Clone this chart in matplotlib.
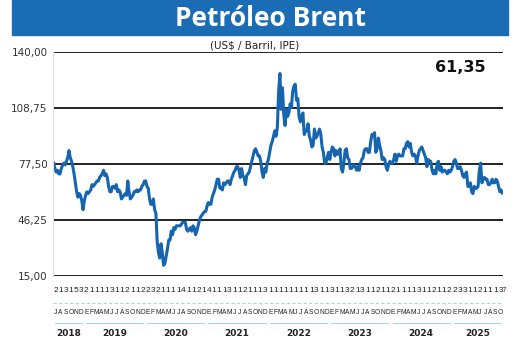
import numpy as np
import matplotlib.pyplot as plt
from matplotlib.transforms import blended_transform_factory

# weekly-ish Brent closes, Jul 2018 .. Oct 2025 (4 per month)
brent = [
    # 2018 Jul-Dec
    78, 75, 73, 74,  72, 72, 75, 77,  78, 77, 79, 81,
    85, 81, 79, 76,  72, 67, 62, 59,  61, 60, 57, 52,
    # 2019
    57, 60, 62, 61,  62, 63, 66, 65,  66, 67, 68, 68,
    70, 71, 72, 74,  71, 72, 70, 65,  62, 62, 65, 65,
    64, 66, 62, 63,  62, 58, 59, 60,  61, 60, 68, 62,
    58, 59, 60, 62,  62, 63, 62, 63,  63, 65, 66, 68,
    # 2020
    68, 65, 64, 58,  55, 55, 58, 52,  50, 34, 28, 25,
    33, 28, 21, 22,  26, 30, 35, 35,  40, 38, 42, 41,
    43, 43, 43, 43,  44, 45, 45, 45,  41, 40, 41, 42,
    40, 43, 42, 38,  40, 43, 46, 48,  49, 50, 51, 51,
    # 2021
    54, 56, 55, 55,  59, 61, 63, 66,  69, 69, 64, 64,
    63, 67, 66, 67,  68, 68, 66, 69,  71, 73, 74, 76,
    76, 74, 70, 75,  71, 70, 66, 71,  72, 73, 76, 79,
    82, 85, 86, 84,  82, 82, 79, 73,  70, 75, 73, 78,
    # 2022
    80, 84, 88, 90,  93, 96, 93, 98,  118, 128, 108, 120,
    105, 99, 108, 104,  106, 111, 109, 118,  121, 122, 113, 114,
    104, 101, 104, 106,  94, 96, 96, 100,  93, 91, 87, 88,
    97, 92, 93, 95,  97, 94, 87, 84,  78, 78, 81, 84,
    # 2023
    80, 84, 87, 86,  82, 85, 83, 83,  86, 75, 73, 78,
    85, 86, 81, 80,  75, 75, 76, 77,  76, 74, 76, 74,
    78, 80, 81, 85,  86, 86, 84, 84,  90, 94, 93, 95,
    84, 86, 92, 88,  85, 80, 81, 80,  76, 74, 77, 79,
    # 2024
    78, 78, 80, 83,  79, 82, 83, 82,  82, 82, 86, 86,
    89, 90, 87, 89,  84, 82, 83, 82,  78, 82, 85, 86,
    87, 85, 83, 81,  76, 80, 79, 79,  74, 72, 74, 72,
    78, 79, 74, 76,  73, 74, 74, 73,  72, 74, 73, 74,
    # 2025 Jan-Oct
    76, 79, 80, 78,  75, 75, 76, 74,  71, 70, 72, 73,
    65, 65, 67, 62,  61, 65, 64, 64,  65, 74, 78, 67,
    69, 70, 69, 69,  66, 66, 67, 69,  67, 67, 69, 68,
    65, 62, 63, 61.35,
]

month_letters = list("JASOND") + list("EFMAMJJASOND") * 6 + list("EFMAMJJASO")
top_digits = list("2131532111131121122321111411214111311211"
                  "13111111111311311321311211211113112112233112111") + ["37"]
years = ["2018", "2019", "2020", "2021", "2022", "2023", "2024", "2025"]
year_months = [6, 12, 12, 12, 12, 12, 12, 10]

yticks = [15, 46.25, 77.5, 108.75, 140]
ytick_labels = ["15,00", "46,25", "77,50", "108,75", "140,00"]
last_value = "61,35"

blue = "#1565b0"

fig = plt.figure(figsize=(5.2, 3.62), dpi=100)
ax = fig.add_axes([53 / 520, 1 - 276 / 362, 450 / 520, 224 / 362])

x = np.arange(len(brent)) / 4 + 0.125
ax.plot(x, brent, color=blue, lw=2.2, solid_joinstyle="round")

ax.set_xlim(0, len(month_letters))
ax.set_ylim(15, 140)
ax.set_yticks(yticks)
ax.set_yticklabels(ytick_labels, fontsize=7.5, color="#333333")
ax.set_xticks([])
ax.tick_params(axis="y", length=0, pad=4)
for yv in yticks:
    ax.axhline(yv, color="#222222", lw=1.4, zorder=1)
for s in ["top", "right", "bottom"]:
    ax.spines[s].set_visible(False)
ax.spines["left"].set_color("#dddddd")
ax.spines["left"].set_linewidth(0.8)

ax.text(0.905, 0.93, last_value, transform=ax.transAxes, ha="center", va="center",
        fontsize=11.5, fontweight="bold", color="#111111")

# title banner
fig.patches.append(plt.Rectangle((12 / 520, 1 - 35 / 362), 496 / 520, 35 / 362,
                                 transform=fig.transFigure, color="#1a6cb4", zorder=0))
fig.text(0.52, 1 - 18 / 362, "Petróleo Brent", ha="center", va="center",
         fontsize=19, fontweight="bold", color="white", family="Open Sans")
fig.text(0.49, 1 - 45 / 362, "(US$ / Barril, IPE)", ha="center", va="center",
         fontsize=7.5, color="#222222")

# month axis below the plot
tr = blended_transform_factory(ax.transData, fig.transFigure)
for i, (d, m) in enumerate(zip(top_digits, month_letters)):
    if len(d) > 1:
        fig.text(i + 0.95, 1 - 290 / 362, d, transform=tr, ha="center", va="center",
                 fontsize=5.5, color="#222222", family="Liberation Sans")
    else:
        fig.text(i + 0.5, 1 - 290 / 362, d, transform=tr, ha="center", va="center",
                 fontsize=6, color="#222222", family="Liberation Sans")
    fig.text(i + 0.5, 1 - 313 / 362, m, transform=tr, ha="center", va="center",
             fontsize=4.8, color="#222222", family="Liberation Sans")
ax.plot([0, len(month_letters)], [1 - 303 / 362] * 2, transform=tr, clip_on=False,
        color="#a9d6e5", lw=0.8, ls=(0, (3, 2)))

start = 0
for yr, n in zip(years, year_months):
    ax.plot([start + 0.4, start + n - 0.4], [1 - 323 / 362] * 2, transform=tr,
            clip_on=False, color="#a9d6e5", lw=0.8)
    fig.text(start + n / 2, 1 - 333 / 362, yr, transform=tr, ha="center", va="center",
             fontsize=6.5, fontweight="bold", color="#222222")
    start += n

fig.savefig("out.png", dpi=100)
